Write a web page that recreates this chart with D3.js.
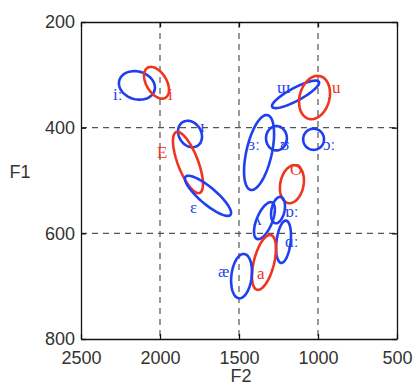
<!DOCTYPE html>
<html lang="en">
<head>
<meta charset="UTF-8">
<title>F1 / F2</title>
<style>
  body { margin: 0; background: #fff; }
  .tick-label { font-family: "Liberation Sans", Arial, sans-serif; font-size: 18px; fill: #333; }
  .vowel { font-family: "Liberation Serif", "DejaVu Serif", serif; font-size: 17px; }
</style>
</head>
<body>
<div id="chart"></div>
<script src="https://cdn.jsdelivr.net/npm/d3@7"></script>
<script>
// vowel ellipses: centre (F2, F1), half extents in Hz, correlation
const vowels   = ["iː", "i", "ɪ", "E", "ɛ", "ɯ", "u", "ɔː", "ʊ", "ɜː", "O", "ʌ", "ɒː", "ɑː", "a", "æ"];
const groups   = ["b", "r", "b", "r", "b", "b", "r", "b", "b", "b", "r", "b", "b", "b", "r", "b"];
const meanF2   = [2146, 2022, 1810, 1823, 1696, 1142, 1022, 1028, 1263, 1373, 1165, 1339, 1253, 1218, 1342, 1484];
const meanF1   = [320, 315, 412, 466, 529, 337, 343, 422, 420, 447, 507, 576, 556, 616, 655, 681];
const spreadF2 = [114, 79, 76, 95, 146, 149, 98, 66, 66, 95, 76, 66, 44, 47, 76, 66];
const spreadF1 = [27, 30, 25, 58, 38, 26, 41, 20, 23, 71, 36, 35, 25, 40, 52, 42];
const corr     = [-0.15, -0.45, -0.2, -0.7, -0.85, 0.85, 0.2, 0, 0, 0.5, 0.2, 0.6, 0.3, 0.3, 0.5, 0.2];
const labelF2  = [2297, 1949, 1747, 2019, 1810, 1259, 911, 968, 1241, 1443, 1177, 1411, 1209, 1209, 1386, 1633];
const labelF1  = [348, 348, 408, 457, 562, 334, 334, 442, 442, 442, 490, 584, 569, 626, 686, 683];

const xTicks = [2500, 2000, 1500, 1000, 500];
const yTicks = [200, 400, 600, 800];

const W = 415, H = 387;
const m = { left: 81, right: 18, top: 22, bottom: 48 };
const colors = { b: "#1f3ff0", r: "#f0341f" };

const svg = d3.select("#chart").append("svg")
    .attr("width", W)
    .attr("height", H);

const x = d3.scaleLinear().domain([2500, 500]).range([m.left, W - m.right]);
const y = d3.scaleLinear().domain([200, 800]).range([m.top, H - m.bottom]);

// dashed grid on inner ticks
const g = svg.append("g");
g.selectAll("line.gx").data(xTicks.slice(1, -1)).enter().append("line")
    .attr("x1", d => x(d)).attr("x2", d => x(d))
    .attr("y1", y(200)).attr("y2", y(800))
    .attr("stroke", "#555").attr("stroke-width", 1.2)
    .attr("stroke-dasharray", "6,5");
g.selectAll("line.gy").data(yTicks.slice(1, -1)).enter().append("line")
    .attr("y1", d => y(d)).attr("y2", d => y(d))
    .attr("x1", x(2500)).attr("x2", x(500))
    .attr("stroke", "#555").attr("stroke-width", 1.2)
    .attr("stroke-dasharray", "6,5");

// axes with inward ticks
const fmt = d3.format("d");
const axB = d3.axisBottom(x).tickValues(xTicks).tickFormat(fmt).tickSizeInner(-5).tickSizeOuter(0).tickPadding(12);
const axL = d3.axisLeft(y).tickValues(yTicks).tickFormat(fmt).tickSizeInner(-5).tickSizeOuter(0).tickPadding(6);
const axT = d3.axisTop(x).tickValues(xTicks).tickSizeInner(-5).tickSizeOuter(0).tickFormat("");
const axR = d3.axisRight(y).tickValues(yTicks).tickSizeInner(-5).tickSizeOuter(0).tickFormat("");

function styleAxis(sel) {
    sel.select(".domain").attr("stroke", "#111").attr("stroke-width", 1.3);
    sel.selectAll(".tick line").attr("stroke", "#111").attr("stroke-width", 1.3);
    sel.selectAll("text").attr("class", "tick-label").attr("font-family", null).attr("font-size", null);
}
svg.append("g").attr("transform", `translate(0,${y(800)})`).call(axB).call(styleAxis);
svg.append("g").attr("transform", `translate(${x(2500)},0)`).call(axL).call(styleAxis);
svg.append("g").attr("transform", `translate(0,${y(200)})`).call(axT).call(styleAxis);
svg.append("g").attr("transform", `translate(${x(500)},0)`).call(axR).call(styleAxis);

svg.append("text").attr("class", "tick-label")
    .attr("x", (x(2500) + x(500)) / 2 + 2).attr("y", 382)
    .attr("text-anchor", "middle").text("F2");
svg.append("text").attr("class", "tick-label")
    .attr("x", 20).attr("y", 178)
    .attr("text-anchor", "middle").text("F1");

// ellipses
const steps = d3.range(0, 72).map(i => i / 72 * 2 * Math.PI);
const line = d3.line().curve(d3.curveLinearClosed);

vowels.forEach((v, i) => {
    const r = corr[i];
    const pts = steps.map(t => [
        x(meanF2[i] + spreadF2[i] * Math.cos(t)),
        y(meanF1[i] + spreadF1[i] * (r * Math.cos(t) + Math.sqrt(1 - r * r) * Math.sin(t)))
    ]);
    svg.append("path")
        .attr("d", line(pts))
        .attr("fill", "none")
        .attr("stroke", colors[groups[i]])
        .attr("stroke-width", 2.6);
    svg.append("text")
        .attr("class", "vowel")
        .attr("x", x(labelF2[i]))
        .attr("y", y(labelF1[i]))
        .attr("fill", colors[groups[i]])
        .text(v);
});
</script>
</body>
</html>
